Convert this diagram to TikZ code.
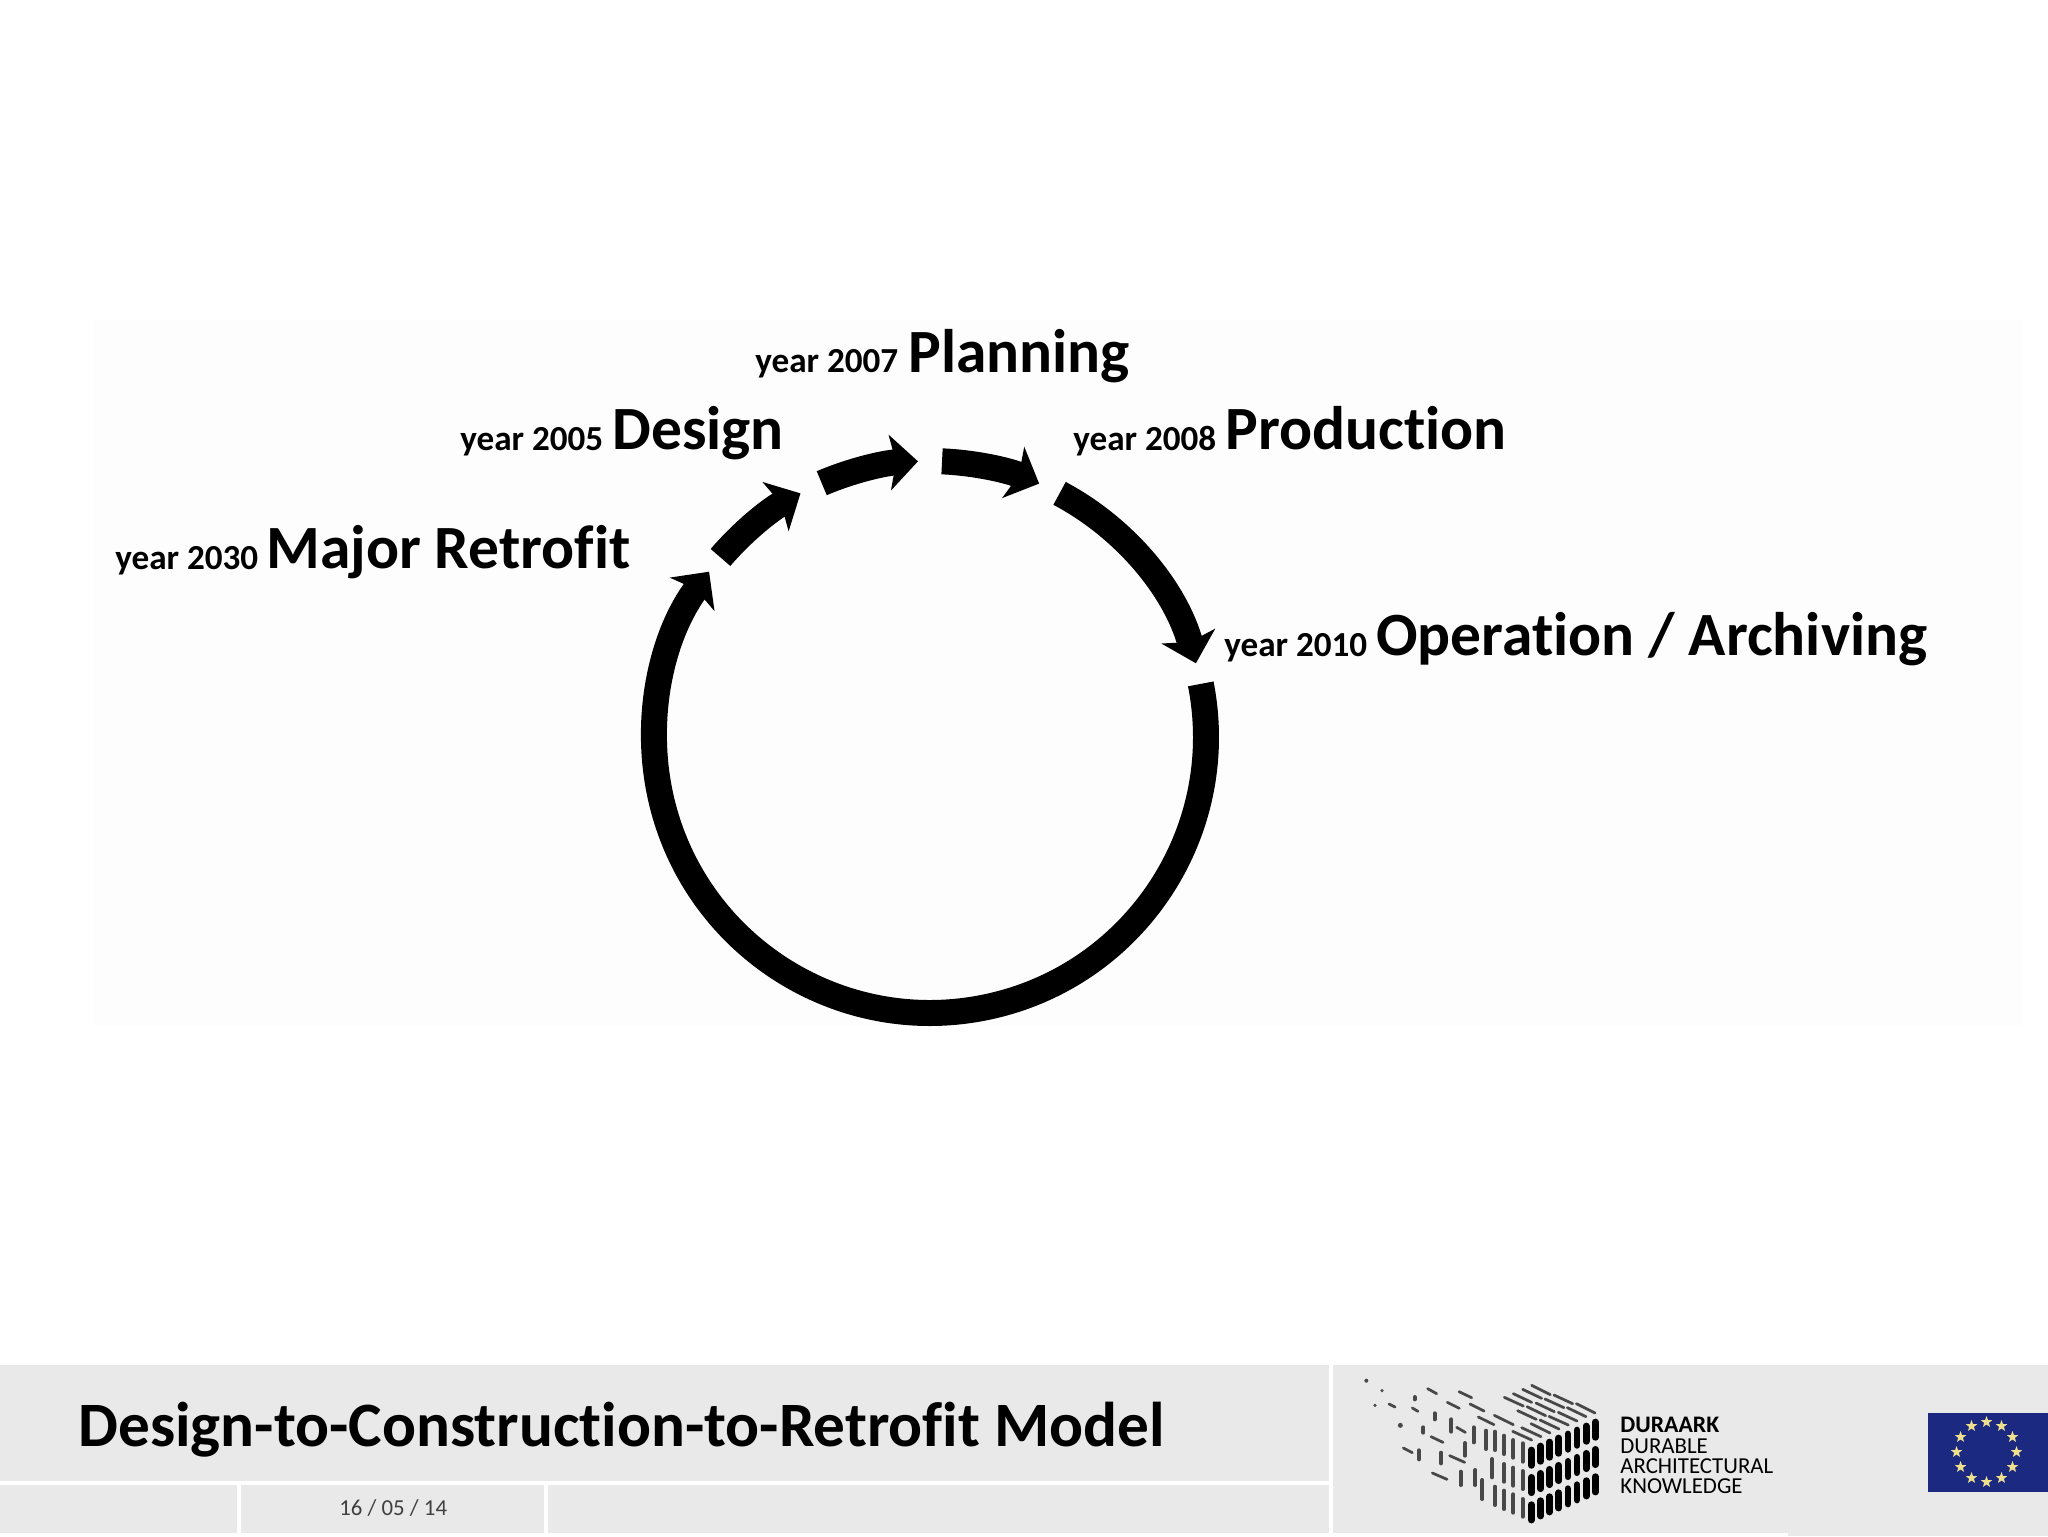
\documentclass[tikz,border=0pt]{standalone}
\usepackage{fontspec}
\setmainfont{Carlito}[Ligatures=CommonOff]
\usetikzlibrary{arrows.meta,shapes.geometric,calc}
\definecolor{PanelClr}{HTML}{FDFDFD}
\definecolor{BarClr}{HTML}{E9E9E9}
\definecolor{DateClr}{HTML}{404040}
\definecolor{ThinClr}{HTML}{484848}
\definecolor{FlagClr}{HTML}{1B2A80}
\definecolor{StarClr}{HTML}{EFE08E}
\tikzset{
  stagelbl/.style={anchor=base west,inner sep=0pt,font=\fontsize{35}{35}\selectfont\bfseries},
  yearlbl/.style={anchor=base west,inner sep=0pt,font=\fontsize{20}{20}\selectfont\bfseries},
  logolbl/.style={anchor=base west,inner sep=0pt,font=\fontsize{13}{13}\selectfont},
  cyclearrow/.style={line width=.52cm,-{Stealth[length=.56cm,width=1.1cm,inset=.12cm]}},
  whiteline/.style={white,line width=.09cm}
}
\newcommand{\CycleArc}[2]{\draw[cyclearrow] (centre) ++(#1:5.52cm) arc[start angle=#1,end angle=#2,radius=5.52cm];}

\begin{document}
\begin{tikzpicture}[x=.02cm,y=-.02cm]
\useasboundingbox (0,0) rectangle (2048,1536);
\fill[white] (0,0) rectangle (2048,1536);
\fill[PanelClr] (94,320) rectangle (2022,1025);

\coordinate (centre) at (930,737);
\CycleArc{62}{15.5}
\CycleArc{87.5}{66.7}
\CycleArc{113.1}{92.5}
\CycleArc{139.4}{118}
\CycleArc{11.1}{-216.8}

\node[yearlbl] (y2007) at (755,372) {year 2007};
\node[stagelbl] (planning) at (908,372) {Planning};
\node[yearlbl] (y2005) at (460,450) {year 2005};
\node[stagelbl] (design) at (612,449.5) {Design};
\node[yearlbl] (y2008) at (1073,450) {year 2008};
\node[stagelbl] (production) at (1225,449.5) {Production};
\node[yearlbl] (y2030) at (115,569) {year 2030};
\node[stagelbl] (retrofit) at (266,568.5) {Major Retrofit};
\node[yearlbl] (y2010) at (1224,656) {year 2010};
\node[stagelbl] (operation) at (1376,655.5) {Operation / Archiving};

% footer
\fill[BarClr] (0,1365) rectangle (2048,1536);
\draw[whiteline] (0,1483) -- (1330,1483);
\draw[whiteline] (239,1483) -- (239,1536);
\draw[whiteline] (546,1483) -- (546,1536);
\draw[whiteline] (1331,1365) -- (1331,1536);
\fill[white] (0,1533) rectangle (1788,1536);
\node[stagelbl,font=\fontsize{36}{36}\selectfont\bfseries] (title) at (78,1446) {Design-to-Construction-to-Retrofit Model};
\node[anchor=base west,inner sep=0pt,text=DateClr,font=\fontsize{13}{13}\selectfont] (date) at (339,1515) {16 / 05 / 14};

% logo
\begin{scope}[shift={(1355,1370)},x=.00667cm,y=-.00667cm,line cap=round]
\foreach \i in {0,...,7}
  \foreach \r in {0,1,2}
    \draw[black,line width=.135cm] ({529+27.4*\i},{240-12*\i+82*\r}) -- ++(0,46);
\foreach \x/\ya/\yb in {503/215/280,503/298/362,503/382/445,475/205/268,475/288/352,475/368/433,
  447/192/257,447/277/340,447/357/422,420/180/245,420/345/410,393/177/242,411/262/327,382/325/392,
  356/167/222,361/295/350,330/214/262,317/300/350,289/143/190,258/243/285,239/125/153,205/167/193,
  192/236/273,179/76/93}
  \draw[ThinClr,line width=.08cm] (\x,\ya+5) -- (\x,\yb-5);
\foreach \xa/\ya/\xb/\yb in {218/56/245/71,312/65/350/83,277/97/313/115,345/102/387/123,102/102/120/111,
  172/114/189/124,370/141/417/164,418/136/475/164,305/172/331/187,228/200/264/217,284/257/329/277,
  145/234/172/248,232/309/276/328,530/46/586/74,503/58/560/85,475/71/530/97,448/82/505/108,
  597/75/653/101,570/87/627/113,543/99/598/125,516/110/572/137,488/122/544/148,
  664/101/720/129,637/113/693/140,610/127/666/153,582/139/640/165,555/150/612/177,528/161/585/189,
  500/173/558/200,473/184/530/210}
  \draw[ThinClr,line width=.055cm] (\xa,\ya) -- (\xb,\yb);
\foreach \x/\y/\d in {34/32/.04,81/62/.035,60/106/.035,136/166/.05}
  \fill[ThinClr] (\x,\y) circle[radius=\d cm];
\end{scope}
\node[logolbl,font=\fontsize{13.5}{14}\selectfont\bfseries] (duraark) at (1620,1432) {DURAARK};
\node[logolbl] (durable) at (1620,1453) {DURABLE};
\node[logolbl] (archi) at (1620,1473) {ARCHITECTURAL};
\node[logolbl] (know) at (1620,1493) {KNOWLEDGE};

% flag
\fill[FlagClr] (1928,1413) rectangle (2048,1492);
\foreach \a in {0,30,...,330}
  \node[star,star points=5,star point ratio=2.4,fill=StarClr,inner sep=0pt,minimum size=.24cm] at ($(1986.5,1452)+(\a:.6cm)$) {};
\end{tikzpicture}
\end{document}
